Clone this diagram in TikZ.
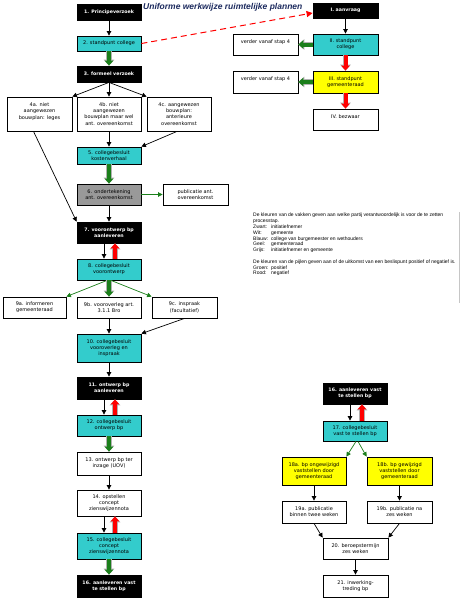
\documentclass[tikz,border=0pt]{standalone}
\usepackage{fontspec}
\setmainfont{DejaVu Sans}
\newfontfamily\arialfont{Liberation Sans}
\usetikzlibrary{arrows.meta}
\definecolor{boxcyan}{HTML}{33CCCC}
\definecolor{boxyellow}{HTML}{FFFF00}
\definecolor{boxgray}{HTML}{999999}
\definecolor{posgreen}{HTML}{1B7F1B}
\definecolor{titleblue}{HTML}{1C2A5E}
\tikzset{
  stap/.style={draw=black, line width=0.8pt, minimum width=64pt, align=center, inner sep=1pt,
    font=\fontsize{5}{6.2}\selectfont},
  zwart/.style={stap, fill=black, text=white, font=\fontsize{4.7}{6.2}\selectfont\bfseries},
  wit/.style={stap, fill=white},
  blauw/.style={stap, fill=boxcyan},
  geel/.style={stap, fill=boxyellow},
  grijs/.style={stap, fill=boxgray},
  pijl/.style={line width=0.7pt, -{Triangle[width=4.5pt,length=4.5pt]}},
  groenpijl/.style={pijl, draw=posgreen},
  positief/.style={line width=4pt, draw=posgreen, -{Triangle[width=8.5pt,length=5pt]},
    preaction={draw=gray!60, line width=5.5pt, -{Triangle[width=10.5pt,length=6pt]}}},
  negatief/.style={line width=4pt, draw=red, -{Triangle[width=8.5pt,length=5pt]},
    preaction={draw=gray!60, line width=5.5pt, -{Triangle[width=10.5pt,length=6pt]}}},
}
\newcommand{\kleur}[1]{\makebox[18pt][l]{#1}}
\begin{document}
\begin{tikzpicture}[x=1pt,y=-1pt]
    \useasboundingbox[fill=white] (0,0) rectangle (461,600);
    % titel
    \node[anchor=west, inner sep=0pt, text=titleblue,
      font=\arialfont\bfseries\itshape\fontsize{8.5}{10}\selectfont] (titel) at (143,7) {Uniforme werkwijze ruimtelijke plannen};
    % linker kolom
    \node[zwart, minimum height=16pt] (s1) at (109,12) {1. Principeverzoek};
    \node[blauw, minimum height=15pt] (s2) at (109,43.5) {2. standpunt college};
    \node[zwart, minimum height=16pt] (s3) at (109,74) {3. formeel verzoek};
    \node[wit, minimum width=65pt, minimum height=34pt] (s4a) at (39.5,114) {4a. niet\\aangewezen\\bouwplan: leges\\\mbox{}};
    \node[wit, minimum height=34pt] (s4b) at (109,114) {4b. niet\\aangewezen\\bouwplan maar wel\\ant. overeenkomst};
    \node[wit, minimum height=34pt] (s4c) at (179,114) {4c. aangewezen\\bouwplan:\\anterieure\\overeenkomst};
    \node[blauw, minimum height=17pt] (s5) at (109,155.5) {5. collegebesluit\\kostenverhaal};
    \node[grijs, minimum height=21pt] (s6) at (109,194.5) {6. ondertekening\\ant. overeenkomst};
    \node[wit, minimum width=65pt, minimum height=21pt] (pub) at (195.5,194.5) {publicatie ant.\\overeenkomst};
    \node[zwart, minimum height=21pt] (s7) at (109,232.5) {7. voorontwerp bp\\aanleveren};
    \node[blauw, minimum height=21pt] (s8) at (109,269.5) {8. collegebesluit\\voorontwerp};
    \node[wit, minimum width=63pt, minimum height=21pt] (s9a) at (34.5,307.5) {9a. informeren\\gemeenteraad};
    \node[wit, minimum height=21pt] (s9b) at (109,307.5) {9b. vooroverleg art.\\3.1.1 Bro};
    \node[wit, minimum width=65pt, minimum height=21pt] (s9c) at (184.5,307.5) {9c. inspraak\\(facultatief)};
    \node[blauw, minimum height=28pt] (s10) at (109,348) {10. collegebesluit\\vooroverleg en\\inspraak};
    \node[zwart, minimum height=22pt] (s11) at (109,388) {11. ontwerp bp\\aanleveren};
    \node[blauw, minimum height=21pt] (s12) at (109,425.5) {12. collegebesluit\\ontwerp bp};
    \node[wit, minimum height=23pt] (s13) at (109,463.5) {13. ontwerp bp ter\\inzage (UOV)};
    \node[wit, minimum height=26pt] (s14) at (109,503) {14. opstellen\\concept\\zienswijzennota};
    \node[blauw, minimum height=26pt] (s15) at (109,546) {15. collegebesluit\\concept\\zienswijzennota};
    \node[zwart, minimum height=22pt] (s16) at (109,586) {16. aanleveren vast\\te stellen bp};
    % aanvraag rechtsboven
    \node[zwart, minimum width=65pt, minimum height=15pt] (sI) at (345.5,10.5) {I. aanvraag};
    \node[blauw, minimum width=65pt, minimum height=21pt] (sII) at (345.5,44.5) {II. standpunt\\college};
    \node[geel, minimum width=65pt, minimum height=22pt] (sIII) at (345.5,82) {III. standpunt\\gemeenteraad};
    \node[wit, minimum width=65pt, minimum height=21pt] (sIV) at (345.5,119.5) {IV. bezwaar\\\mbox{}};
    \node[wit, minimum width=65pt, minimum height=21pt] (v1) at (265.5,44.5) {verder vanaf stap 4\\\mbox{}};
    \node[wit, minimum width=65pt, minimum height=22pt] (v2) at (265.5,82) {verder vanaf stap 4\\\mbox{}};
    % vaststelling rechtsonder
    \node[zwart, minimum height=21pt] (r16) at (355,393.5) {16. aanleveren vast\\te stellen bp};
    \node[blauw, minimum height=20pt] (r17) at (355,431) {17. collegebesluit\\vast te stellen bp};
    \node[geel, minimum height=28pt] (r18a) at (314,471) {18a. bp ongewijzigd\\vaststellen door\\gemeenteraad};
    \node[geel, minimum width=65pt, minimum height=28pt] (r18b) at (399.5,471) {18b. bp gewijzigd\\vaststellen door\\gemeenteraad};
    \node[wit, minimum height=22pt] (r19a) at (314,512) {19a. publicatie\\binnen twee weken};
    \node[wit, minimum width=65pt, minimum height=22pt] (r19b) at (399.5,512) {19b. publicatie na\\zes weken};
    \node[wit, minimum width=65pt, minimum height=21pt] (r20) at (355.5,548.5) {20. beroepstermijn\\zes weken};
    \node[wit, minimum width=65pt, minimum height=22pt] (r21) at (355.5,586) {21. inwerking-\\treding bp};
    % legenda
    \node[anchor=north west, inner sep=0pt, align=left,
      font=\arialfont\fontsize{5}{5.8}\selectfont] (legenda) at (253,213) {%
      De kleuren van de vakken geven aan welke partij verantwoordelijk is voor de te zetten\\
      processtap.\\
      \kleur{Zwart:}initiatiefnemer\\
      \kleur{Wit:}gemeente\\
      \kleur{Blauw:}college van burgemeester en wethouders\\
      \kleur{Geel:}gemeenteraad\\
      \kleur{Grijs:}initiatiefnemer en gemeente\\[5.8pt]
      De kleuren van de pijlen geven aan of de uitkomst van een beslispunt positief of negatief is.\\
      \kleur{Groen:}positief\\
      \kleur{Rood:}negatief};
    \draw[gray!45, line width=0.6pt] (459,212) -- (459,303);
    % pijlen linker kolom
    \draw[pijl] (s1) -- (s2);
    \draw[positief] (s2) -- (s3);
    \draw[pijl] (s3.south) -- (s4a.north east);
    \draw[pijl] (s3) -- (s4b);
    \draw[pijl] (s3.south) -- (s4c.north west);
    \draw[pijl] ([xshift=-6pt]s4a.south) -- (s7.north west);
    \draw[pijl] (s4b) -- (s5);
    \draw[pijl] ([xshift=-2pt]s4c.south) -- (s5.north east);
    \draw[positief] (s5) -- (s6);
    \draw[groenpijl] (s6) -- (pub);
    \draw[pijl] (s6) -- (s7);
    \draw[pijl] ([xshift=-5pt]s7.south) -- ([xshift=-5pt]s8.north);
    \draw[negatief] ([xshift=6pt]s8.north) -- ([xshift=6pt]s7.south);
    \draw[groenpijl] ([xshift=-2pt]s8.south) -- (s9a.north east);
    \draw[positief] (s8) -- (s9b);
    \draw[groenpijl] ([xshift=2pt]s8.south) -- (s9c.north west);
    \draw[pijl] (s9b) -- (s10);
    \draw[pijl] (s9c.south) -- (s10.north east);
    \draw[pijl] (s10) -- (s11);
    \draw[pijl] ([xshift=-5pt]s11.south) -- ([xshift=-5pt]s12.north);
    \draw[negatief] ([xshift=6pt]s12.north) -- ([xshift=6pt]s11.south);
    \draw[positief] (s12) -- (s13);
    \draw[pijl] (s13) -- (s14);
    \draw[pijl] ([xshift=-5pt]s14.south) -- ([xshift=-5pt]s15.north);
    \draw[negatief] ([xshift=6pt]s15.north) -- ([xshift=6pt]s14.south);
    \draw[positief] (s15) -- (s16);
    % pijlen aanvraag
    \draw[red, line width=1pt, dash pattern=on 6pt off 4pt, -{Triangle[width=6pt,length=6pt]}] (s2.east) -- ([yshift=-2.5pt]sI.west);
    \draw[pijl] (sI) -- (sII);
    \draw[positief] (sII) -- (v1);
    \draw[negatief] (sII) -- (sIII);
    \draw[positief] (sIII) -- (v2);
    \draw[negatief] (sIII) -- (sIV);
    % pijlen vaststelling
    \draw[pijl] ([xshift=-5pt]r16.south) -- ([xshift=-5pt]r17.north);
    \draw[negatief] ([xshift=7pt]r17.north) -- ([xshift=7pt]r16.south);
    \draw[groenpijl] ([xshift=1pt]r17.south) -- (r18a.north east);
    \draw[groenpijl] ([xshift=3pt]r17.south) -- (r18b.north west);
    \draw[pijl] (r18a) -- (r19a);
    \draw[pijl] (r18b) -- (r19b);
    \draw[pijl] (r19a.south) -- (r20.north west);
    \draw[pijl] (r19b.south) -- (r20.north east);
    \draw[pijl] (r20) -- (r21);
\end{tikzpicture}
\end{document}
